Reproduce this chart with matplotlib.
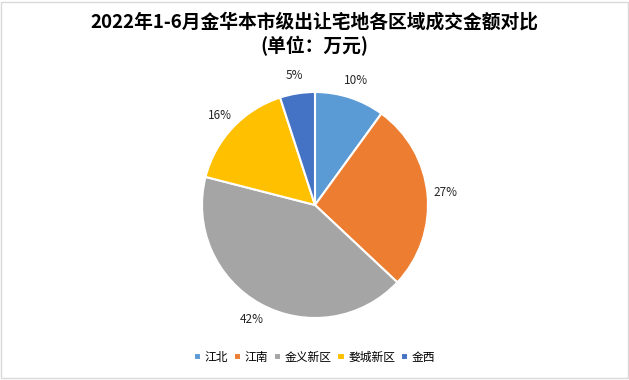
import matplotlib.pyplot as plt
from matplotlib.patches import Rectangle

plt.rcParams['font.family'] = ['Noto Sans CJK SC', 'DejaVu Sans']

# data
regions = ['江北', '江南', '金义新区', '婺城新区', '金西']
shares = [10, 27, 42, 16, 5]
colors = ['#5B9BD5', '#ED7D31', '#A5A5A5', '#FFC000', '#4472C4']
title = '2022年1-6月金华本市级出让宅地各区域成交金额对比\n(单位：万元)'

fig = plt.figure(figsize=(6.29, 3.80), dpi=100)
W, H = 629, 380

# pie axes: 260x260 px square, centre at (315, 205) from top
cx, cy, side = 315, 205, 260
ax = fig.add_axes([(cx - side / 2) / W, (H - cy - side / 2) / H, side / W, side / H])
wedges, texts, autotexts = ax.pie(
    shares, colors=colors, startangle=90, counterclock=False, radius=1.13,
    autopct='%d%%', pctdistance=1.16,
    wedgeprops=dict(edgecolor='white', linewidth=1.5),
    textprops=dict(fontsize=8.5, color='#262626'))
ax.set_xlim(-1.3, 1.3)
ax.set_ylim(-1.3, 1.3)
ax.set_aspect('equal')
ax.axis('off')

fig.text(0.5, 1 - 34 / H, title, ha='center', va='center', fontsize=13.5,
         fontweight='bold', linespacing=1.25)

fig.legend(wedges, regions, loc='center', bbox_to_anchor=(0.5, 1 - 357 / H),
           ncol=5, frameon=False, fontsize=8.5, handlelength=0.6, handleheight=0.6,
           handletextpad=0.3, columnspacing=0.5)

# thin frame around the chart
fig.patches.append(Rectangle((0.002, 0.004), 0.996, 0.992, transform=fig.transFigure,
                             fill=False, edgecolor='#D9D9D9', linewidth=1))

fig.savefig('out.png', dpi=100)
